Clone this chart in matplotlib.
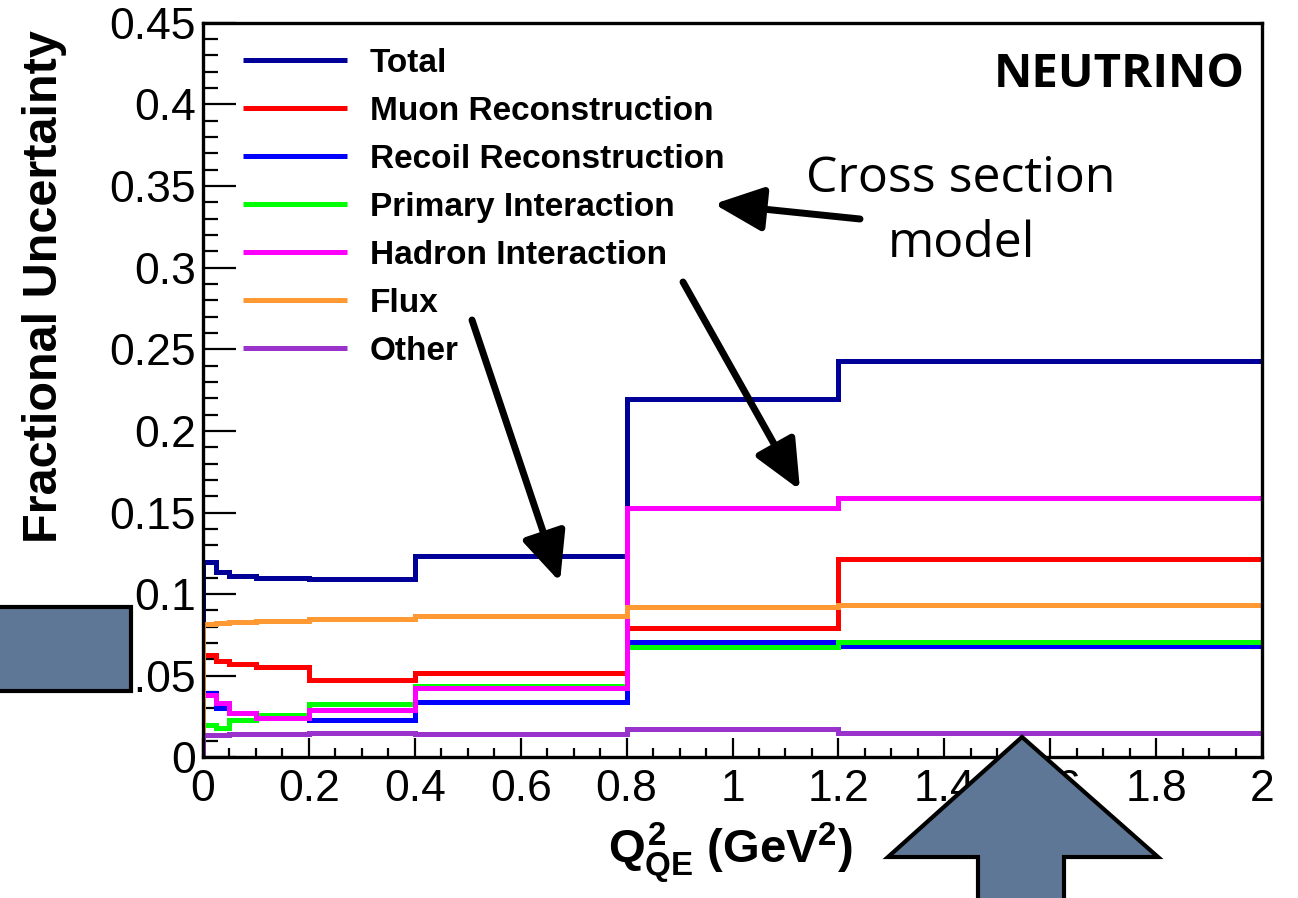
import matplotlib
matplotlib.use("Agg")
import matplotlib.pyplot as plt
import numpy as np
from matplotlib.ticker import MultipleLocator, FuncFormatter
from matplotlib.patches import Rectangle, Polygon

plt.rcParams['font.family'] = ['Liberation Sans', 'DejaVu Sans']
plt.rcParams['mathtext.fontset'] = 'custom'
plt.rcParams['mathtext.rm'] = 'Liberation Sans:bold'
plt.rcParams['mathtext.it'] = 'Liberation Sans:bold'
plt.rcParams['mathtext.bf'] = 'Liberation Sans:bold'

# Q2 bin edges (GeV^2) and fractional uncertainty per bin
q2_edges = [0, 0.025, 0.05, 0.1, 0.2, 0.4, 0.8, 1.2, 2.0]
total   = [0.1197, 0.1138, 0.1113, 0.1097, 0.1095, 0.1234, 0.2193, 0.2430]
muon    = [0.0630, 0.0590, 0.0571, 0.0552, 0.0475, 0.0518, 0.0795, 0.1214]
recoil  = [0.0395, 0.0302, 0.0270, 0.0245, 0.0230, 0.0342, 0.0705, 0.0683]
primary = [0.0200, 0.0179, 0.0230, 0.0262, 0.0328, 0.0435, 0.0679, 0.0709]
hadron  = [0.0381, 0.0332, 0.0275, 0.0244, 0.0289, 0.0424, 0.1530, 0.1590]
flux    = [0.0816, 0.0824, 0.0830, 0.0838, 0.0846, 0.0866, 0.0923, 0.0932]
other   = [0.0138, 0.0140, 0.0142, 0.0145, 0.0147, 0.0144, 0.0172, 0.0152]

names = ['Total', 'Muon Reconstruction', 'Recoil Reconstruction',
         'Primary Interaction', 'Hadron Interaction', 'Flux', 'Other']
series = [total, muon, recoil, primary, hadron, flux, other]
colors = ['#000099', '#ff0000', '#0000ff', '#00ff00', '#ff00ff', '#ff9933', '#9933cc']

W, H = 1298, 898


def px(x, y):
    # image pixel (y down) -> figure fraction
    return x / W, 1 - y / H


def hist_outline(edges, vals):
    # ROOT-like outline: rise from zero at the first edge, no drop at the end
    e = np.asarray(edges, dtype=float)
    v = np.asarray(vals, dtype=float)
    xs = np.repeat(e, 2)[:-1]
    ys = np.concatenate([[0], np.repeat(v, 2)])
    return xs, ys


fig = plt.figure(figsize=(W / 100, H / 100), dpi=100)
ax = fig.add_axes([0.1564, 0.1565, 0.8159, 0.8183])

handles = []
for vals, c, name in zip(series, colors, names):
    xs, ys = hist_outline(q2_edges, vals)
    ln, = ax.plot(xs, ys, color=c, lw=3.6, solid_joinstyle='miter',
                  solid_capstyle='butt', label=name)
    handles.append(ln)

ax.set_xlim(0, 2)
ax.set_ylim(0, 0.45)
ax.xaxis.set_major_locator(MultipleLocator(0.2))
ax.xaxis.set_minor_locator(MultipleLocator(0.05))
ax.yaxis.set_major_locator(MultipleLocator(0.05))
ax.yaxis.set_minor_locator(MultipleLocator(0.01))
fmt = FuncFormatter(lambda v, p: '%g' % round(v, 3))
ax.xaxis.set_major_formatter(fmt)
ax.yaxis.set_major_formatter(fmt)

ax.tick_params(which='both', direction='in', top=False, right=False,
               width=1.6, labelsize=32)
ax.tick_params(axis='y', which='major', length=24, pad=5)
ax.tick_params(axis='y', which='minor', length=11)
ax.tick_params(axis='x', which='major', length=14, pad=8)
ax.tick_params(axis='x', which='minor', length=6.5)
for s in ax.spines.values():
    s.set_linewidth(2.4)

ax.set_ylabel('Fractional Uncertainty', fontsize=35, fontweight='bold', loc='top')
ax.yaxis.set_label_coords(-0.128, 0.99)
ax.set_xlabel(r'$Q^{2}_{QE}$ (GeV$^{2}$)', fontsize=34, fontweight='bold')
ax.xaxis.set_label_coords(0.498, -0.086)

leg = ax.legend(handles=handles, loc='upper left', bbox_to_anchor=(0.038, 0.966),
                frameon=False, borderpad=0, borderaxespad=0,
                handlelength=3.1, handletextpad=0.7, labelspacing=0.51,
                prop={'family': 'Liberation Sans', 'weight': 'bold', 'size': 24})

# slide annotations
fig.text(*px(1245, 87), 'NEUTRINO', family='Open Sans', fontweight='bold',
         fontsize=34, ha='right', va='baseline')
fig.text(*px(961, 192), 'Cross section', family='Open Sans', fontsize=36,
         ha='center', va='baseline')
fig.text(*px(961, 257), 'model', family='Open Sans', fontsize=36,
         ha='center', va='baseline')

arrows = [((860, 219), (714, 204)),
          ((472, 320), (560, 582)),
          ((683, 282), (800, 490))]
for tail, tip in arrows:
    ax.annotate('', xy=(tip[0], H - tip[1]), xytext=(tail[0], H - tail[1]),
                xycoords='figure pixels', textcoords='figure pixels',
                arrowprops=dict(arrowstyle='-|>,head_length=1.0,head_width=0.45',
                                mutation_scale=30, lw=5, color='black',
                                shrinkA=0, shrinkB=0),
                annotation_clip=False, zorder=15)

shape_fc = '#5f7796'
box = Rectangle(px(-6, 691), 137 / W, 84 / H, transform=fig.transFigure,
                facecolor=shape_fc, edgecolor='black', lw=3, zorder=20)
fig.add_artist(box)
up = Polygon([px(1022, 737), px(1158, 857), px(1064, 857), px(1064, 905),
              px(978, 905), px(978, 857), px(888, 857)], closed=True,
             transform=fig.transFigure, facecolor=shape_fc, edgecolor='black',
             lw=3, zorder=20)
fig.add_artist(up)

fig.savefig('out.png', dpi=100)
